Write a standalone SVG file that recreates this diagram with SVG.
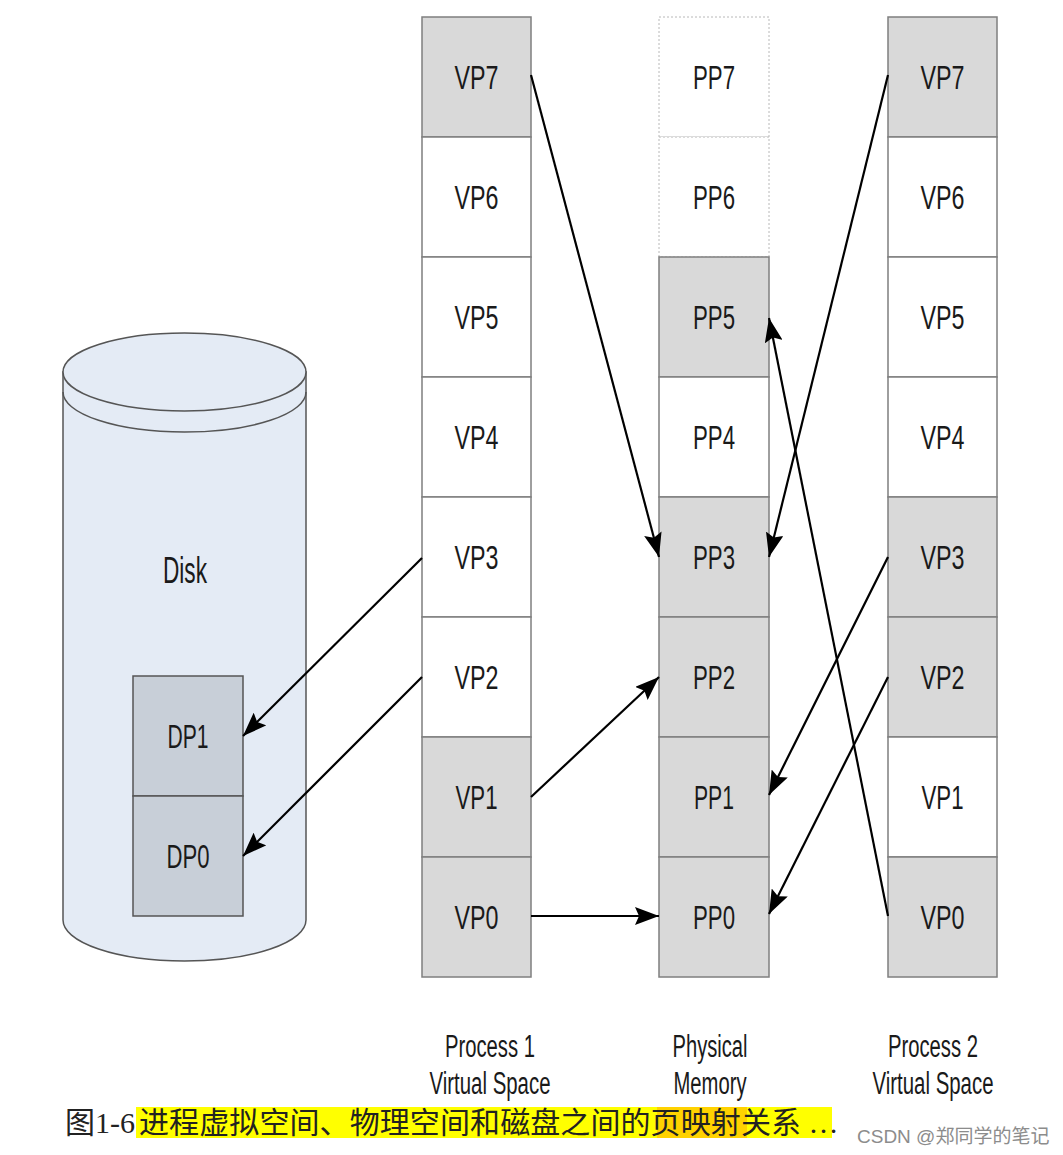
<svg xmlns="http://www.w3.org/2000/svg" width="1063" height="1155" viewBox="0 0 1063 1155">
<defs>
<style>
.g{fill:#d9d9d9;stroke:#7f7f7f;stroke-width:1.5}
.w{fill:#fff;stroke:#7f7f7f;stroke-width:1.5}
.d{fill:#fff;stroke:#b8b8b8;stroke-width:1;stroke-dasharray:2 2}
.t{font-family:"Liberation Sans",Arial,sans-serif;font-size:34px;fill:#1a1a1a;text-anchor:middle}
.lb{font-family:"Liberation Sans",Arial,sans-serif;font-size:31px;fill:#1a1a1a;text-anchor:middle}
.c{stroke:#000;stroke-width:2.2;fill:none;marker-end:url(#ah)}
</style>
<marker id="ah" markerUnits="userSpaceOnUse" markerWidth="26" markerHeight="18" refX="24" refY="9" orient="auto">
<path d="M0,0 L24,9 L0,18 L4,9 z" fill="#000"/>
</marker>
</defs>
<rect width="1063" height="1155" fill="#fff"/>

<g id="disk">
<path d="M63,372 L63,920 A121.5,41 0 0 0 306,920 L306,372 Z" fill="#e4ebf5" stroke="#555" stroke-width="1.5"/>
<ellipse cx="184.5" cy="372" rx="121.5" ry="39" fill="#e4ebf5" stroke="#555" stroke-width="1.5"/>
<path d="M63,392 A121.5,40 0 0 0 306,392" fill="none" stroke="#555" stroke-width="1.5"/>
<text x="185" y="583" class="t" style="font-size:37px" textLength="44" lengthAdjust="spacingAndGlyphs">Disk</text>
</g>
<g id="DP1"><rect x="133" y="676" width="110" height="120" fill="#c8cfd8" stroke="#555" stroke-width="1.5"/><text x="188" y="748" class="t" textLength="41" lengthAdjust="spacingAndGlyphs">DP1</text></g>
<g id="DP0"><rect x="133" y="796" width="110" height="120" fill="#c8cfd8" stroke="#555" stroke-width="1.5"/><text x="188" y="868" class="t" textLength="43" lengthAdjust="spacingAndGlyphs">DP0</text></g>

<g id="p1-VP7"><rect class="g" x="422" y="17" width="109" height="120"/><text class="t" x="476.5" y="89" textLength="44" lengthAdjust="spacingAndGlyphs">VP7</text></g>
<g id="p1-VP6"><rect class="w" x="422" y="137" width="109" height="120"/><text class="t" x="476.5" y="209" textLength="44" lengthAdjust="spacingAndGlyphs">VP6</text></g>
<g id="p1-VP5"><rect class="w" x="422" y="257" width="109" height="120"/><text class="t" x="476.5" y="329" textLength="44" lengthAdjust="spacingAndGlyphs">VP5</text></g>
<g id="p1-VP4"><rect class="w" x="422" y="377" width="109" height="120"/><text class="t" x="476.5" y="449" textLength="44" lengthAdjust="spacingAndGlyphs">VP4</text></g>
<g id="p1-VP3"><rect class="w" x="422" y="497" width="109" height="120"/><text class="t" x="476.5" y="569" textLength="44" lengthAdjust="spacingAndGlyphs">VP3</text></g>
<g id="p1-VP2"><rect class="w" x="422" y="617" width="109" height="120"/><text class="t" x="476.5" y="689" textLength="44" lengthAdjust="spacingAndGlyphs">VP2</text></g>
<g id="p1-VP1"><rect class="g" x="422" y="737" width="109" height="120"/><text class="t" x="476.5" y="809" textLength="42" lengthAdjust="spacingAndGlyphs">VP1</text></g>
<g id="p1-VP0"><rect class="g" x="422" y="857" width="109" height="120"/><text class="t" x="476.5" y="929" textLength="44" lengthAdjust="spacingAndGlyphs">VP0</text></g>

<g id="PP7"><rect class="d" x="659" y="17" width="110" height="120"/><text class="t" x="714" y="89" textLength="42" lengthAdjust="spacingAndGlyphs">PP7</text></g>
<g id="PP6"><rect class="d" x="659" y="137" width="110" height="120"/><text class="t" x="714" y="209" textLength="42" lengthAdjust="spacingAndGlyphs">PP6</text></g>
<g id="PP5"><rect class="g" x="659" y="257" width="110" height="120"/><text class="t" x="714" y="329" textLength="42" lengthAdjust="spacingAndGlyphs">PP5</text></g>
<g id="PP4"><rect class="w" x="659" y="377" width="110" height="120"/><text class="t" x="714" y="449" textLength="42" lengthAdjust="spacingAndGlyphs">PP4</text></g>
<g id="PP3"><rect class="g" x="659" y="497" width="110" height="120"/><text class="t" x="714" y="569" textLength="42" lengthAdjust="spacingAndGlyphs">PP3</text></g>
<g id="PP2"><rect class="g" x="659" y="617" width="110" height="120"/><text class="t" x="714" y="689" textLength="42" lengthAdjust="spacingAndGlyphs">PP2</text></g>
<g id="PP1"><rect class="g" x="659" y="737" width="110" height="120"/><text class="t" x="714" y="809" textLength="40" lengthAdjust="spacingAndGlyphs">PP1</text></g>
<g id="PP0"><rect class="g" x="659" y="857" width="110" height="120"/><text class="t" x="714" y="929" textLength="42" lengthAdjust="spacingAndGlyphs">PP0</text></g>

<g id="p2-VP7"><rect class="g" x="888" y="17" width="109" height="120"/><text class="t" x="942.5" y="89" textLength="44" lengthAdjust="spacingAndGlyphs">VP7</text></g>
<g id="p2-VP6"><rect class="w" x="888" y="137" width="109" height="120"/><text class="t" x="942.5" y="209" textLength="44" lengthAdjust="spacingAndGlyphs">VP6</text></g>
<g id="p2-VP5"><rect class="w" x="888" y="257" width="109" height="120"/><text class="t" x="942.5" y="329" textLength="44" lengthAdjust="spacingAndGlyphs">VP5</text></g>
<g id="p2-VP4"><rect class="w" x="888" y="377" width="109" height="120"/><text class="t" x="942.5" y="449" textLength="44" lengthAdjust="spacingAndGlyphs">VP4</text></g>
<g id="p2-VP3"><rect class="g" x="888" y="497" width="109" height="120"/><text class="t" x="942.5" y="569" textLength="44" lengthAdjust="spacingAndGlyphs">VP3</text></g>
<g id="p2-VP2"><rect class="g" x="888" y="617" width="109" height="120"/><text class="t" x="942.5" y="689" textLength="44" lengthAdjust="spacingAndGlyphs">VP2</text></g>
<g id="p2-VP1"><rect class="w" x="888" y="737" width="109" height="120"/><text class="t" x="942.5" y="809" textLength="42" lengthAdjust="spacingAndGlyphs">VP1</text></g>
<g id="p2-VP0"><rect class="g" x="888" y="857" width="109" height="120"/><text class="t" x="942.5" y="929" textLength="44" lengthAdjust="spacingAndGlyphs">VP0</text></g>

<g id="labels">
<text class="lb" x="490" y="1057" textLength="90" lengthAdjust="spacingAndGlyphs">Process 1</text>
<text class="lb" x="490" y="1094" textLength="121" lengthAdjust="spacingAndGlyphs">Virtual Space</text>
<text class="lb" x="710" y="1057" textLength="75" lengthAdjust="spacingAndGlyphs">Physical</text>
<text class="lb" x="710" y="1094" textLength="73" lengthAdjust="spacingAndGlyphs">Memory</text>
<text class="lb" x="933" y="1057" textLength="90" lengthAdjust="spacingAndGlyphs">Process 2</text>
<text class="lb" x="933" y="1094" textLength="121" lengthAdjust="spacingAndGlyphs">Virtual Space</text>
</g>

<g id="connectors">
<line class="c" x1="531" y1="75" x2="659" y2="557"/>
<line class="c" x1="888" y1="75" x2="769" y2="557"/>
<line class="c" x1="888" y1="916" x2="769" y2="318"/>
<line class="c" x1="422" y1="558" x2="243" y2="736"/>
<line class="c" x1="422" y1="677" x2="243" y2="856"/>
<line class="c" x1="531" y1="797" x2="659" y2="677"/>
<line class="c" x1="531" y1="916" x2="659" y2="916"/>
<line class="c" x1="888" y1="557" x2="769" y2="795"/>
<line class="c" x1="888" y1="677" x2="769" y2="914"/>
</g>

<g id="caption">
<rect x="136" y="1107" width="696" height="31" fill="#ffff00"/>
<rect x="657" y="1107" width="90" height="31" fill="#ffd200"/>
<text x="65" y="1133" font-family="'Liberation Serif','Noto Sans CJK SC',serif" font-size="30" fill="#222">图1-6 <tspan x="139" textLength="662" lengthAdjust="spacing">进程虚拟空间、物理空间和磁盘之间的页映射关系</tspan> …</text>
<text x="857" y="1143" font-family="'Liberation Sans','Noto Sans CJK SC',sans-serif" font-size="19" fill="#8c8c8c">CSDN @郑同学的笔记</text>
</g>
</svg>
